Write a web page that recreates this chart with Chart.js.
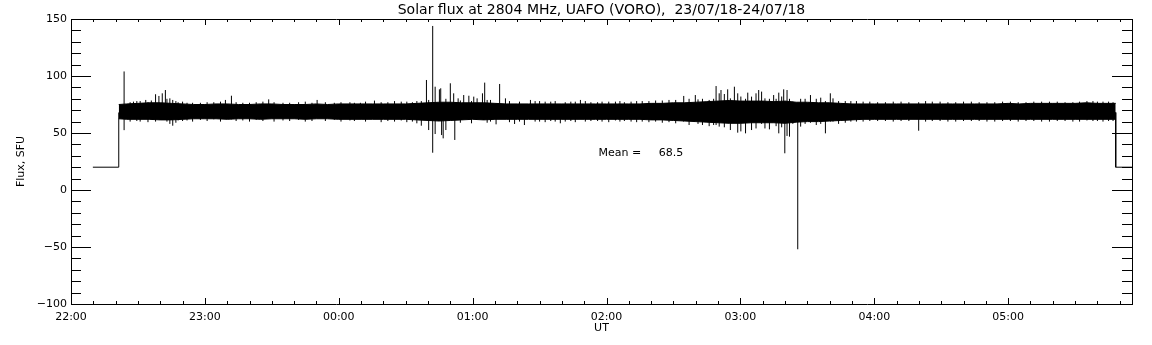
<!DOCTYPE html>
<html>
<head>
<meta charset="utf-8">
<title>Solar flux at 2804 MHz</title>
<script src="https://cdn.jsdelivr.net/npm/chart.js@4.4.1/dist/chart.umd.min.js"></script>
<style>
  html, body { margin: 0; padding: 0; background: #fff; }
  canvas { display: block; }
</style>
</head>
<body>
<canvas id="fluxChart" width="1152" height="345"></canvas>
<script>
// time is in minutes after 22:00 UT (23/07/18)
const hourTicks = [0, 60, 120, 180, 240, 300, 360, 420];
const hourLabels = ['22:00', '23:00', '00:00', '01:00', '02:00', '03:00', '04:00', '05:00'];
const fluxTicks = [-100, -50, 0, 50, 100, 150];
const timeRange = [0, 475.5];
const fluxRange = [-100, 150];

// flat 20 SFU level before and after the run
const stepTimes = [9.8, 21.4, 21.4, 21.4, 468.2, 468.2, 475.5];
const stepFlux = [20, 20, 68, null, 68, 20, 20];

// noise band envelope, read about every 5 min
const bandTimes = [21.4, 25, 30, 35, 40, 45, 50, 55, 60, 65, 70, 75, 80, 85, 90, 95, 100, 105, 110, 115,
  120, 125, 130, 135, 140, 145, 150, 155, 160, 165, 170, 175, 180, 185, 190, 195, 200, 205, 210, 215,
  220, 225, 230, 235, 240, 245, 250, 255, 260, 265, 270, 275, 280, 285, 290, 295, 300, 305, 310, 315,
  320, 325, 330, 335, 340, 345, 350, 355, 360, 365, 370, 375, 380, 385, 390, 395, 400, 405, 410, 415,
  420, 425, 430, 435, 440, 445, 450, 455, 460, 465, 468.2];
const bandHigh = [75, 75.5, 76, 76.5, 76.5, 76, 75.5, 75, 75, 75.5, 75.5, 75, 75, 75.5, 75.5, 75, 75, 75, 75.5, 75,
  75.5, 75.5, 75.5, 75.5, 75.5, 75.5, 75.5, 76, 76.5, 77, 77, 76.5, 76.5, 76.5, 76, 75.5, 75.5, 75.5, 75.5, 75.5,
  75.5, 75.5, 75.5, 75.5, 75.5, 75.5, 75.5, 75.5, 76, 76, 76.5, 76.5, 77, 77.5, 78, 78.5, 78, 78, 78, 77.5,
  78, 77, 77, 76.5, 76.5, 76, 75.5, 75.5, 75.5, 75.5, 75.5, 75.5, 75.5, 75.5, 75.5, 75.5, 75.5, 75.5, 75.5, 75.5,
  76, 75.5, 76, 76, 76, 76, 76, 76.5, 76, 76, 76];
const bandLow = [62.5, 62, 62, 62, 61.5, 61.5, 62, 62.5, 62.5, 62.5, 62, 62.5, 62.5, 62, 62.5, 62.5, 62.5, 62, 62.5, 62.5,
  62, 62, 62, 62, 62, 62, 62, 61.5, 61, 60.5, 61, 61.5, 62, 61.5, 62, 62, 62, 62, 62, 62,
  62, 62, 62, 62, 62, 62, 62, 62, 61.5, 61.5, 61, 60.5, 60, 59.5, 59, 58.5, 58.5, 59, 59, 59,
  58.5, 59.5, 60, 60, 60.5, 61, 61.5, 62, 62, 62, 62, 62, 62, 62, 62, 62, 62, 62, 62, 62,
  62, 62, 62, 62, 62, 62, 62, 62, 62, 62, 62];

// spikes: [minute, low, high]
const spikes = [
  [23.8, 52.5, 104], [28, 66, 77.5], [31, 60, 78], [33.5, 66, 79], [36, 66, 78.5], [37.9, 60, 84],
  [39.4, 66, 82.5], [40.9, 66, 84.8], [42.3, 66, 87.7], [44.3, 58, 80.4], [45.6, 56.4, 79], [48, 61, 77],
  [52, 61, 76.5], [58, 61.5, 76.5], [64, 62, 77], [69.2, 66, 79], [71.9, 62, 82.7], [77, 61, 76.5],
  [83, 61.5, 77], [88.6, 66, 79.5], [95, 61, 76.5], [102, 61.5, 77], [110.3, 66, 79], [118, 61.5, 76.5],
  [125, 61, 77], [129.7, 66, 76.5],
  [136, 66, 78.4], [142, 60.5, 77], [148, 61, 77.5], [153, 60, 77], [157, 56.4, 78], [159.3, 66, 96.5],
  [160.3, 52.6, 79], [162.1, 32.7, 143.9], [163.2, 49.1, 90.6], [165.1, 62, 88.3], [165.7, 62, 89.2],
  [166.1, 48.2, 70], [166.8, 45.3, 70], [168, 52.6, 80], [170, 66, 93.6], [171.5, 66, 84.8], [172, 43.9, 70],
  [173.5, 66, 80.4], [176, 66, 83.3], [178.3, 66, 82.7], [180.5, 66, 81.9], [182, 66, 80.4], [184.4, 66, 84.8],
  [185.4, 66, 94.2], [188, 60, 79], [190.5, 57.6, 70], [192.1, 66, 93], [194.7, 66, 80.4], [198.8, 57.9, 70],
  [203.2, 57, 70], [205.9, 66, 79], [210, 60, 78], [215, 60.5, 77.5], [219.3, 58.5, 70], [224, 60.5, 77.5],
  [228.3, 66, 79], [233, 60.5, 77], [238, 60, 77.5], [244, 61, 77.5], [248, 60.5, 77],
  [256, 60, 78], [262, 60, 78.5], [268, 59.5, 79], [274.6, 60, 82.5], [277, 57, 80], [279.8, 60, 83.3],
  [283, 57, 80], [286, 56, 79], [289.1, 57, 91.2], [290.5, 55.6, 84.8], [291.3, 60, 87.7], [292.8, 55, 84.2],
  [294.3, 60, 88.3], [295.5, 52.6, 80.4], [297.3, 60, 90.6], [298.8, 50.3, 84.8], [300.2, 51.4, 82],
  [302.3, 49.7, 80], [303.3, 60, 85.4], [305, 52.6, 81.9], [307, 54, 84.8], [308.2, 60, 87.7], [309.5, 58, 86.3],
  [311, 54, 80.4], [313, 53.2, 80], [314.9, 60, 83.3], [316, 56, 80], [317.2, 49.7, 85.4], [318.5, 55, 82],
  [319.4, 60, 88.3], [319.9, 32.2, 70], [320.9, 47.4, 87.7], [322, 46.8, 80], [323.5, 58, 77.5], [325.7, -52, 70],
  [327, 55.6, 80], [329, 58, 80], [331.4, 59, 83.3], [334, 57, 80], [336, 58, 81], [338.1, 49.7, 78],
  [340.3, 60, 84.8], [341.5, 60, 80.4], [344, 58, 78], [347, 59, 78],
  [352, 60, 78], [358, 60.5, 77.5], [365, 60.5, 77], [372, 60.5, 77.5], [379.9, 52, 77], [386, 60.5, 77.5],
  [393, 60, 77], [400, 60.5, 77.5], [407, 60.5, 77], [414, 60, 77], [421, 60.5, 77.5], [428, 60.5, 77],
  [435, 60, 77.5], [442, 60.5, 77.5], [449, 60, 77], [455.3, 61, 78], [460, 60.5, 77.5], [465, 60.5, 77.5]
];

// small ragged edge of the band: [minute, low, high]
const fringe = [
  [26.5, 60, 77], [29.5, 60.5, 78], [34.5, 59.5, 77], [43, 60, 80], [47, 59, 78], [50, 60.5, 77.5],
  [54.5, 60, 76.5], [61, 60.5, 77], [67, 60, 77.5], [74, 60.5, 77], [80, 60, 76.5], [86, 60.5, 77.5],
  [91, 60, 77], [98, 60.5, 76.5], [105, 60, 77.5], [108, 60.5, 76.5], [114, 60.5, 77], [121, 60, 77],
  [127, 60.5, 76.5], [132, 60, 77.5], [139, 59.5, 77], [145, 60, 78], [150.5, 59.5, 77.5], [155, 58.5, 78],
  [174.5, 59, 78.5], [179.5, 58.5, 78], [186.5, 59, 79], [196.5, 59.5, 78], [201, 60, 77.5], [208, 60, 78],
  [212.5, 59.5, 77.5], [217, 60, 78], [221.5, 60, 77], [226, 59.5, 77.5], [230.5, 60, 78], [236, 60.5, 77],
  [241, 59.5, 77.5], [246, 60, 78], [251, 60, 77.5], [253.5, 59.5, 78], [259, 59.5, 78], [265, 59, 78.5],
  [271, 58.5, 79], [281, 58, 79.5], [288, 57, 80], [349.5, 60, 78], [355, 60, 77.5], [361.5, 60.5, 77],
  [368.5, 60, 77.5], [375.5, 60.5, 77], [383, 60, 78], [389.5, 60.5, 77.5], [396.5, 60, 77], [403.5, 60.5, 77.5],
  [410.5, 60, 77], [417.5, 60.5, 77.5], [424.5, 60, 77], [431.5, 60.5, 77.5], [438.5, 60, 77.5], [445.5, 60.5, 77],
  [452, 60, 77.5], [458, 60.5, 78], [462.5, 60, 77.5], [467, 60.5, 77]
];

const meanText = 'Mean =     68.5';
const meanAt = [236.4, 32.5];

const labelFont = { family: 'DejaVu Sans', size: 11 };

const spikePoints = [];
spikes.concat(fringe).forEach(([t, lo, hi]) => {
  spikePoints.push({ x: t, y: lo }, { x: t, y: hi }, { x: t, y: null });
});

// IDL style inward tick marks on all four sides, plus the mean note
const inwardTicks = {
  id: 'inwardTicks',
  afterDraw(chart) {
    const { ctx, chartArea: a, scales } = chart;
    ctx.save();
    ctx.strokeStyle = '#000';
    ctx.lineWidth = 1;
    ctx.beginPath();
    for (let v = fluxRange[0] + 10; v < fluxRange[1]; v += 10) {
      const y = Math.round(scales.y.getPixelForValue(v)) + 0.5;
      const len = v % 50 === 0 ? 20 : 10;
      ctx.moveTo(a.left, y); ctx.lineTo(a.left + len, y);
      ctx.moveTo(a.right, y); ctx.lineTo(a.right - len, y);
    }
    for (let t = 10; t < timeRange[1]; t += 10) {
      const x = Math.round(scales.x.getPixelForValue(t)) + 0.5;
      const len = t % 60 === 0 ? 6 : 3;
      ctx.moveTo(x, a.bottom); ctx.lineTo(x, a.bottom - len);
      ctx.moveTo(x, a.top); ctx.lineTo(x, a.top + len);
    }
    ctx.stroke();
    ctx.fillStyle = '#000';
    ctx.font = '11px "DejaVu Sans"';
    ctx.textBaseline = 'middle';
    ctx.fillText(meanText, scales.x.getPixelForValue(meanAt[0]), scales.y.getPixelForValue(meanAt[1]));
    ctx.restore();
  }
};

const line = { borderColor: '#000', borderWidth: 1, pointRadius: 0, tension: 0, fill: false };

new Chart(document.getElementById('fluxChart'), {
  type: 'line',
  data: {
    datasets: [
      { ...line, data: bandTimes.map((t, i) => ({ x: t, y: bandHigh[i] })) },
      { ...line, data: bandTimes.map((t, i) => ({ x: t, y: bandLow[i] })), fill: '-1', backgroundColor: '#000' },
      { ...line, data: spikePoints, spanGaps: false },
      { ...line, data: stepTimes.map((t, i) => ({ x: t, y: stepFlux[i] })), spanGaps: false }
    ]
  },
  options: {
    responsive: false,
    animation: false,
    devicePixelRatio: 1,
    layout: { padding: 0 },
    plugins: {
      legend: { display: false },
      tooltip: { enabled: false },
      title: {
        display: true,
        text: 'Solar flux at 2804 MHz, UAFO (VORO),  23/07/18-24/07/18',
        color: '#000',
        font: { family: 'DejaVu Sans', size: 14, weight: 'normal', lineHeight: 1.2 },
        padding: { top: 2, bottom: 0.2 },
        fullSize: false
      }
    },
    scales: {
      x: {
        type: 'linear',
        position: 'bottom',
        min: timeRange[0],
        max: timeRange[1],
        afterBuildTicks: s => { s.ticks = hourTicks.map(v => ({ value: v })); },
        afterFit: s => { s.height = 41; },
        grid: { display: false, tickLength: 0 },
        border: { display: true, color: '#000', width: 1 },
        ticks: {
          color: '#000', font: labelFont, padding: 7, maxRotation: 0, autoSkip: false,
          callback: v => hourLabels[hourTicks.indexOf(v)]
        },
        title: { display: true, text: 'UT', color: '#000', font: labelFont, padding: { top: 0, bottom: 10.5 } }
      },
      x2: {
        type: 'linear',
        position: 'top',
        min: timeRange[0],
        max: timeRange[1],
        afterFit: s => { s.height = 0; },
        grid: { display: false },
        border: { display: true, color: '#000', width: 1 },
        ticks: { display: false }
      },
      y: {
        position: 'left',
        min: fluxRange[0],
        max: fluxRange[1],
        afterBuildTicks: s => { s.ticks = fluxTicks.map(v => ({ value: v })); },
        afterFit: s => { s.width = 71; },
        grid: { display: false, tickLength: 0 },
        border: { display: true, color: '#000', width: 1 },
        ticks: { color: '#000', font: labelFont, padding: 4, callback: v => v < 0 ? '\u2212' + (-v) : String(v) },
        title: { display: true, text: 'Flux, SFU', color: '#000', font: labelFont, padding: { top: 14.5, bottom: 0 } }
      },
      y2: {
        position: 'right',
        min: fluxRange[0],
        max: fluxRange[1],
        afterFit: s => { s.width = 20; },
        grid: { display: false },
        border: { display: true, color: '#000', width: 1 },
        ticks: { display: false }
      }
    }
  },
  plugins: [inwardTicks]
});
</script>
</body>
</html>
